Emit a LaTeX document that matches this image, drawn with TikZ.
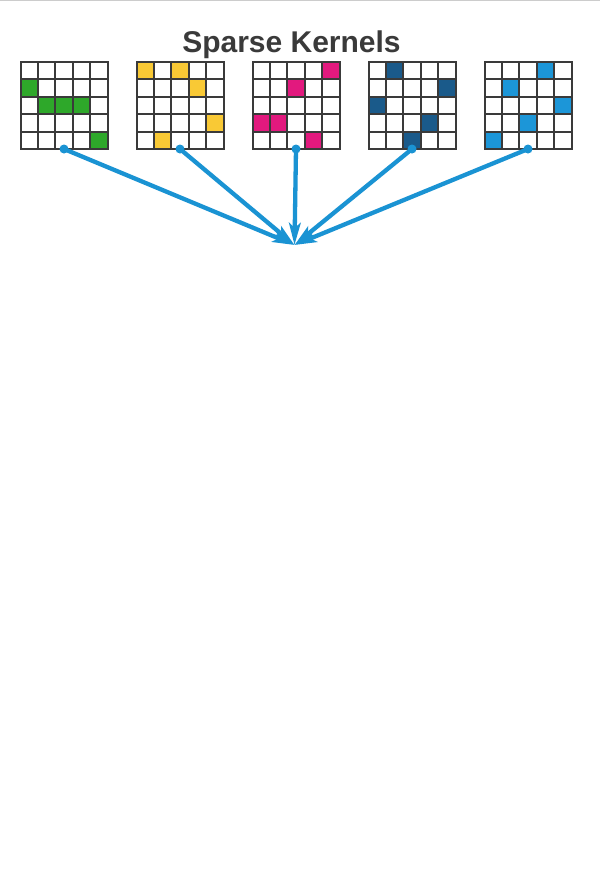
\documentclass[tikz,border=0pt]{standalone}
\usepackage{fontspec}
\setmainfont{Liberation Sans}
\usepackage{tikz}
\usetikzlibrary{arrows.meta, calc}
\definecolor{kgreen}{HTML}{2EA82A}
\definecolor{kyellow}{HTML}{F9C935}
\definecolor{kpink}{HTML}{E2197E}
\definecolor{kdarkblue}{HTML}{1A5A8A}
\definecolor{kblue}{HTML}{1C96D8}
\definecolor{karrow}{HTML}{1A93D3}
\definecolor{kline}{HTML}{3A3A3A}
\tikzset{
gridLine/.style={draw=kline, line width=2pt, line cap=rect},
arrowMe/.style={draw=karrow, line width=4.3pt,
    -{Stealth[length=22pt, width=11.5pt, inset=5pt]}},
dotMe/.style={fill=karrow, circle, inner sep=0pt, minimum size=9pt}
}

\begin{document}
\begin{tikzpicture}[x=1pt, y=-1pt]
    \useasboundingbox (0,0) rectangle (600,887);
    \fill[white] (0,0) rectangle (600,887);
    \draw[black!20, line width=1pt] (0,0.5) -- (600,0.5);

    \node[anchor=base, font=\bfseries\fontsize{30}{31}\selectfont, text=kline, inner sep=0pt]
        (title) at (291.5,52.7) {Sparse Kernels};

    \coordinate (target) at (294.5,245);

    % the five kernels: grid number / colour / filled cells (row/col)
    \foreach \g/\col/\cells in {
        0/kgreen/{1/0,2/1,2/2,2/3,4/4},
        1/kyellow/{0/0,0/2,1/3,3/4,4/1},
        2/kpink/{0/4,1/2,3/0,3/1,4/3},
        3/kdarkblue/{0/1,1/4,2/0,3/3,4/2},
        4/kblue/{0/3,1/1,2/4,3/2,4/0}}{
      \begin{scope}[shift={(20.5+116*\g,62)}]
        \foreach \r/\c in \cells
          \fill[\col] (17.4*\c,17.4*\r) rectangle ++(17.4,17.4);
        \foreach \i in {0,...,5}{
          \draw[gridLine] (17.4*\i,0) -- (17.4*\i,87);
          \draw[gridLine] (0,17.4*\i) -- (87,17.4*\i);
        }
        \node[dotMe] (k\g) at (43.5,87) {};
      \end{scope}
    }

    \foreach \g in {0,...,4}
      \draw[arrowMe] (k\g.center) -- (target);
\end{tikzpicture}
\end{document}
